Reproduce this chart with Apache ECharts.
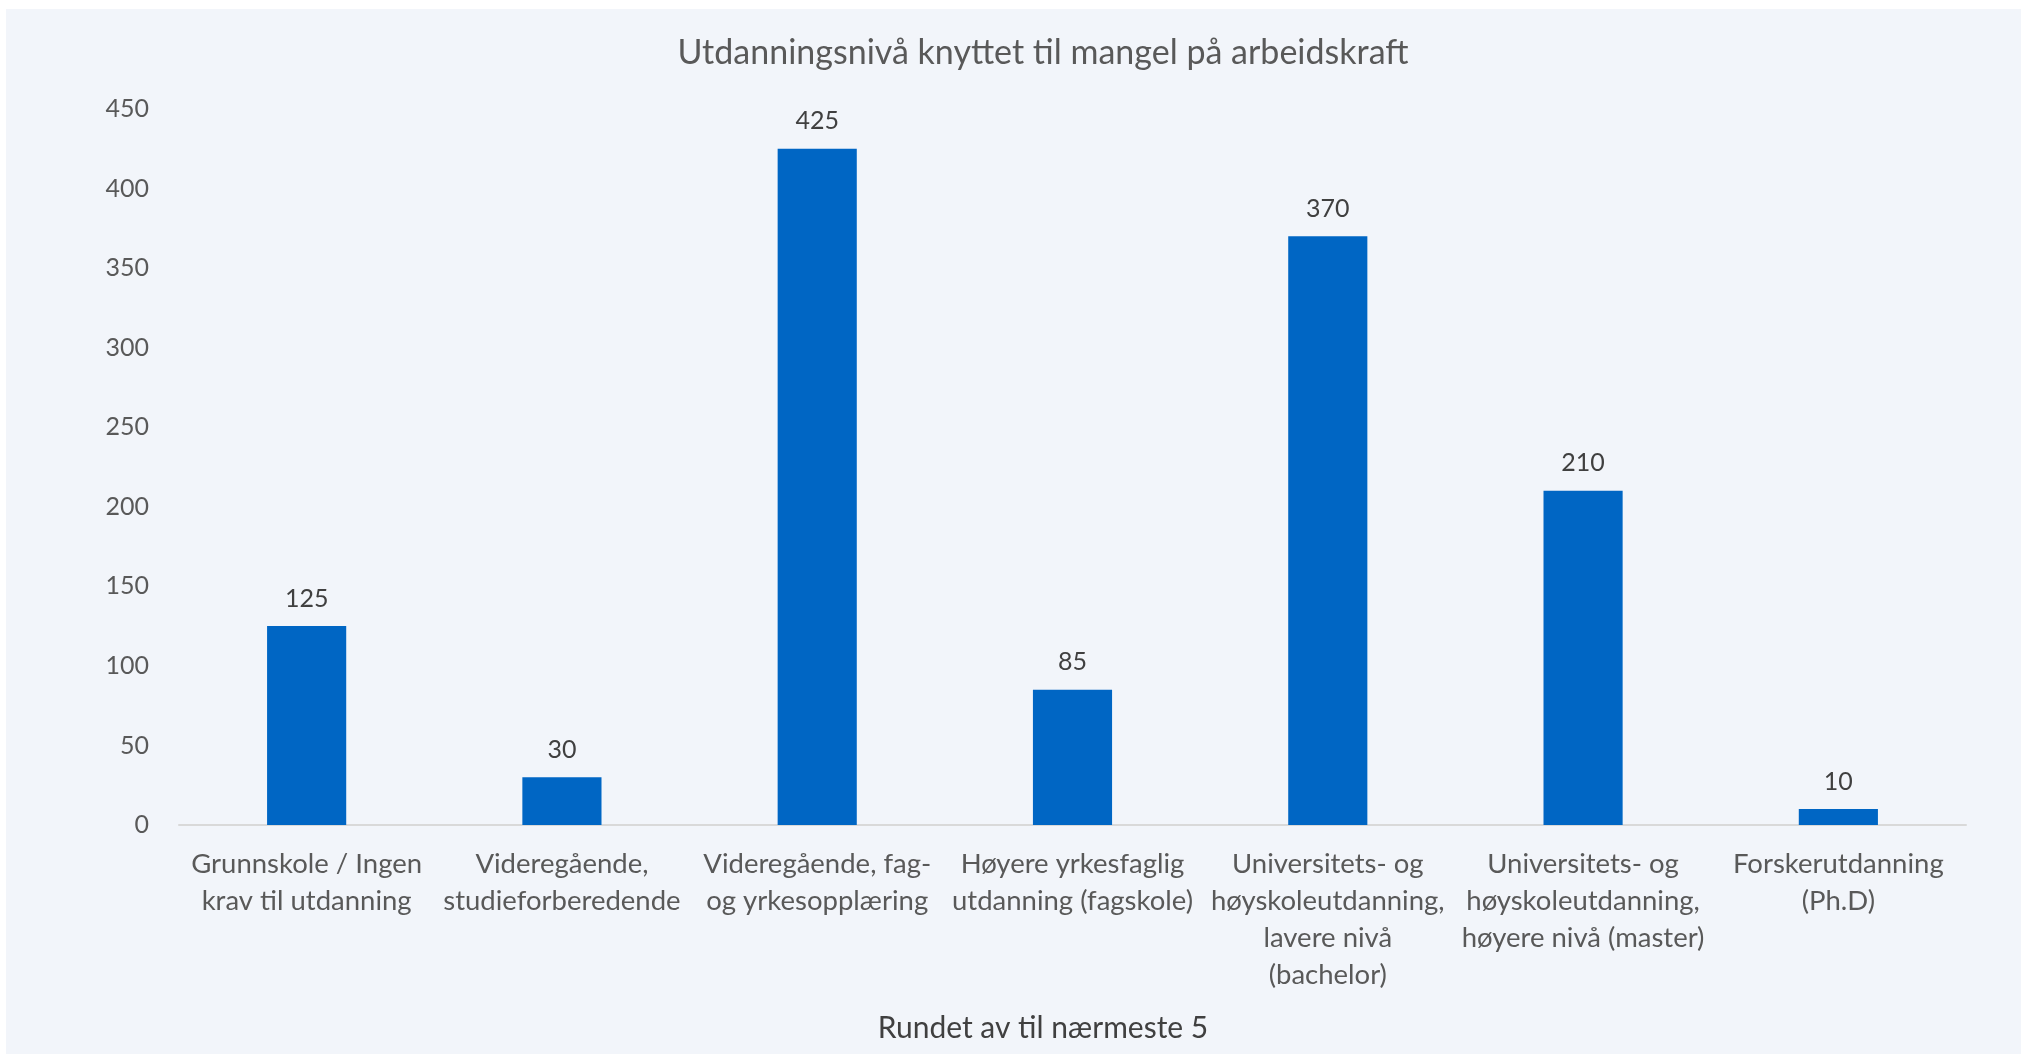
<!DOCTYPE html>
<html>
<head>
<meta charset="utf-8">
<script src="https://cdn.jsdelivr.net/npm/echarts@6/dist/echarts.min.js"></script>
<style>
  html, body { margin: 0; padding: 0; background: #ffffff; }
  #chart { position: absolute; left: 6px; top: 9px; width: 2015px; height: 1045px; }
</style>
</head>
<body>
<div id="chart"></div>
<script>
var categories = [
  "Grunnskole / Ingen\nkrav til utdanning",
  "Videregående,\nstudieforberedende",
  "Videregående, fag-\nog yrkesopplæring",
  "Høyere yrkesfaglig\nutdanning (fagskole)",
  "Universitets- og\nhøyskoleutdanning,\nlavere nivå\n(bachelor)",
  "Universitets- og\nhøyskoleutdanning,\nhøyere nivå (master)",
  "Forskerutdanning\n(Ph.D)"
];
var values = [125, 30, 425, 85, 370, 210, 10];
var yTicks = { min: 0, max: 450, interval: 50 };

var font = "Lato";
var myChart = echarts.init(document.getElementById("chart"));

// tittel og aksetittel er sentrert litt til høyre for midten av diagrammet
var textCenter = 1032;

var option = {
  backgroundColor: "#F2F5FA",
  animation: false,
  title: [
    {
      text: "Utdanningsnivå knyttet til mangel på arbeidskraft",
      left: textCenter,
      textAlign: "center",
      top: 22,
      textStyle: {
        fontFamily: font,
        fontSize: 34,
        fontWeight: "normal",
        color: "#595959"
      }
    },
    {
      text: "Rundet av til nærmeste 5",
      left: textCenter,
      textAlign: "center",
      top: 999,
      textStyle: {
        fontFamily: font,
        fontSize: 30,
        fontWeight: "normal",
        color: "#404040"
      }
    }
  ],
  grid: {
    left: 173,
    right: 55,
    top: 100,
    bottom: 229
  },
  xAxis: {
    type: "category",
    data: categories,
    axisLine: {
      lineStyle: { color: "#D9D9D9", width: 2 }
    },
    axisTick: { show: false },
    axisLabel: {
      interval: 0,
      margin: 21,
      fontFamily: font,
      fontSize: 27.5,
      lineHeight: 37,
      color: "#595959"
    }
  },
  yAxis: {
    type: "value",
    min: yTicks.min,
    max: yTicks.max,
    interval: yTicks.interval,
    axisLine: { show: false },
    axisTick: { show: false },
    splitLine: { show: false },
    axisLabel: {
      margin: 30,
      fontFamily: font,
      fontSize: 25,
      color: "#595959"
    }
  },
  series: [
    {
      type: "bar",
      data: values,
      barWidth: "31%",
      itemStyle: { color: "#0066C4" },
      label: {
        show: true,
        position: "top",
        distance: 15,
        fontFamily: font,
        fontSize: 25,
        color: "#404040"
      }
    }
  ]
};

myChart.setOption(option);
</script>
</body>
</html>
